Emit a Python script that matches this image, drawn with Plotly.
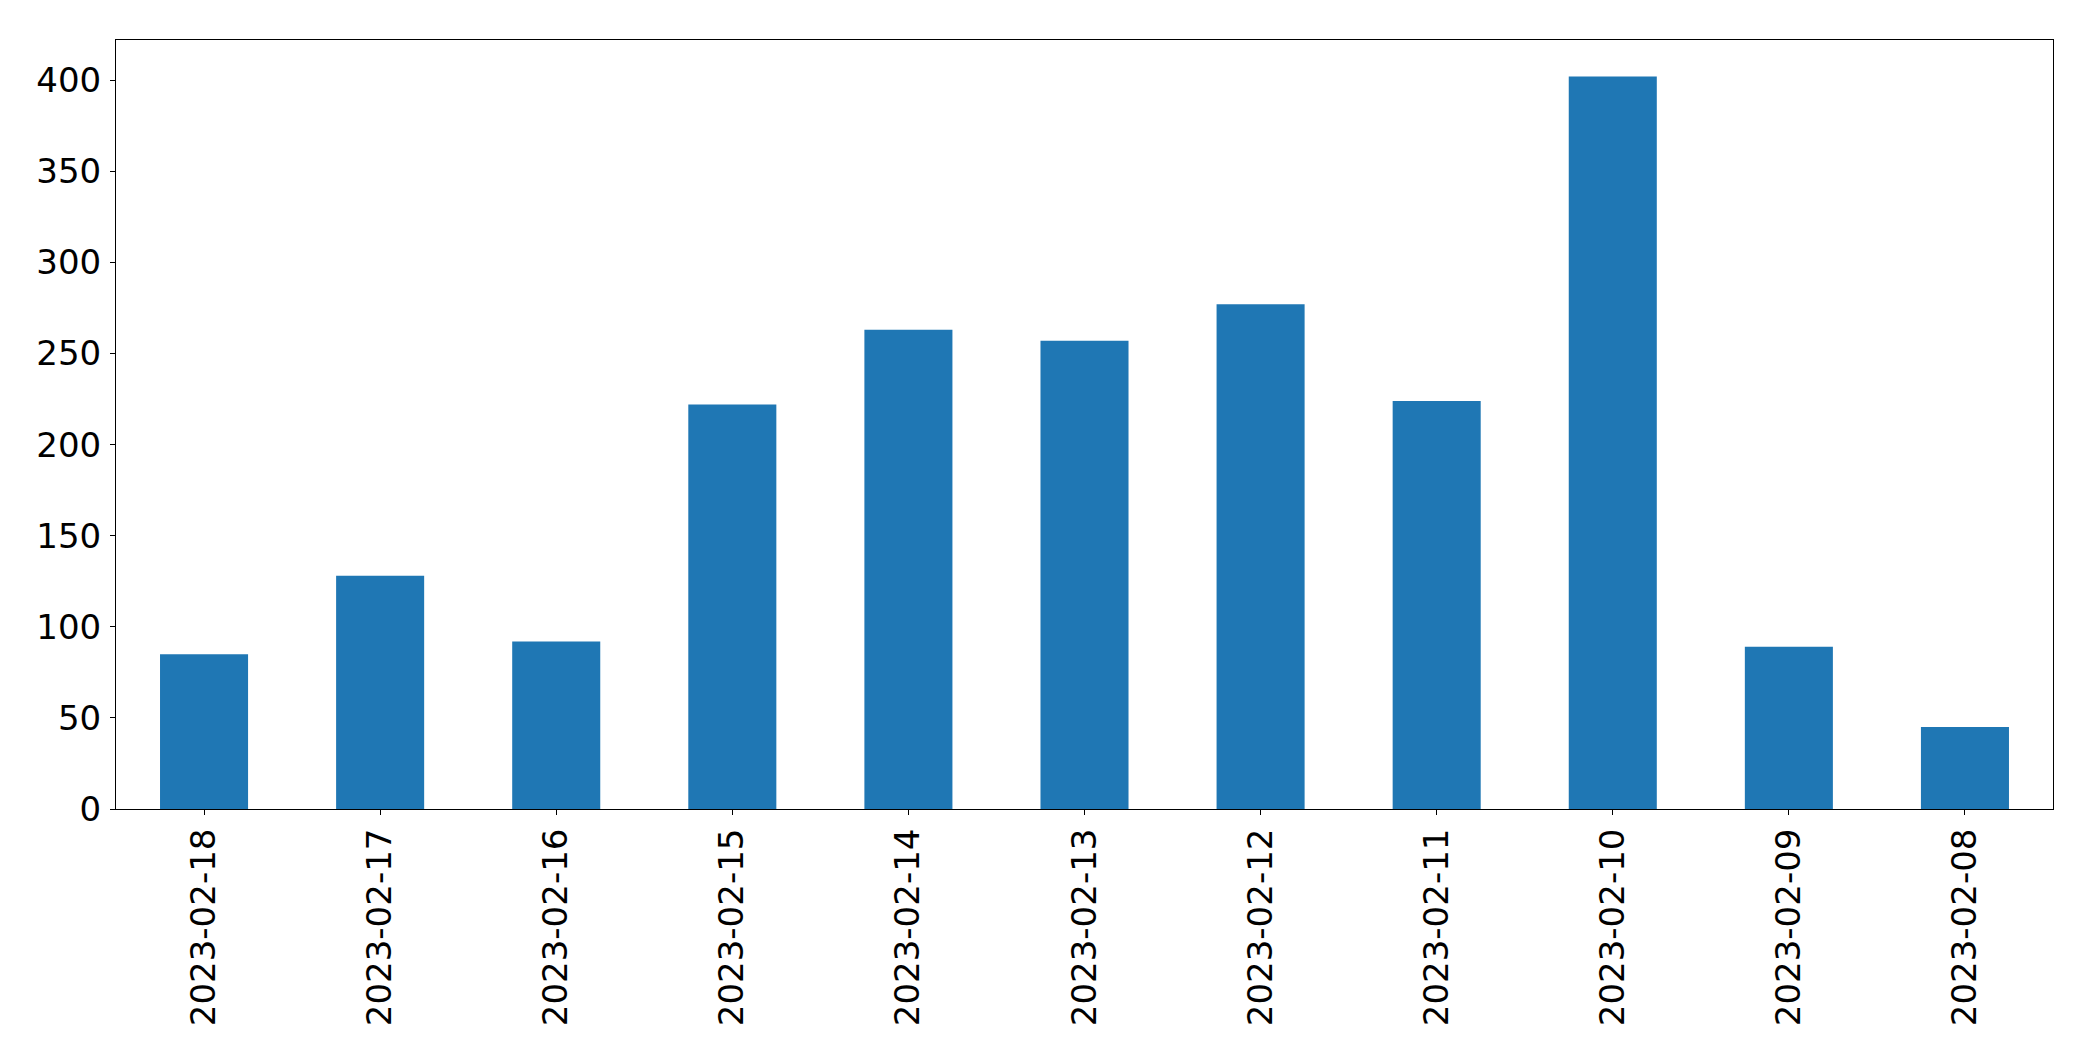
import plotly.graph_objects as go

dates = ["2023-02-18", "2023-02-17", "2023-02-16", "2023-02-15", "2023-02-14",
         "2023-02-13", "2023-02-12", "2023-02-11", "2023-02-10", "2023-02-09", "2023-02-08"]
counts = [85, 128, 92, 222, 263, 257, 277, 224, 402, 89, 45]
y_ticks = [0, 50, 100, 150, 200, 250, 300, 350, 400]

fig = go.Figure(go.Bar(x=dates, y=counts, marker=dict(color="#1f77b4", line=dict(width=0))))

font = dict(family="DejaVu Sans", size=34, color="black")
# the page body has an 8px default margin, so the figure is sized to fit the window
fig.update_layout(
    width=2085, height=1053,
    margin=dict(l=108, r=40, t=32, b=252),
    plot_bgcolor="white", paper_bgcolor="white",
    bargap=0.5, showlegend=False,
    font=font,
)
fig.update_xaxes(
    type="category", range=[-0.5, len(dates) - 0.5],
    tickangle=-90, ticks="outside", ticklen=5, tickwidth=1, tickcolor="black",
    showline=True, linecolor="black", linewidth=1, mirror=True,
    showgrid=False, tickfont=font, ticklabelstandoff=0,
)
fig.update_yaxes(
    range=[0, max(counts) * 1.05], tickvals=y_ticks,
    ticks="outside", ticklen=5, tickwidth=1, tickcolor="black",
    showline=True, linecolor="black", linewidth=1, mirror=True,
    showgrid=False, zeroline=False, tickfont=font, ticklabelstandoff=2,
)
fig.write_html("out.html")
